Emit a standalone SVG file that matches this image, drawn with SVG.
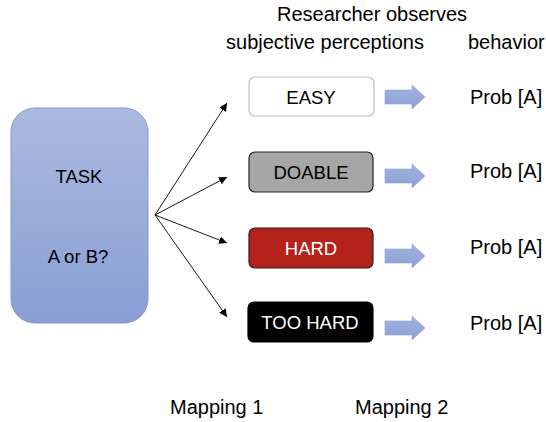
<svg xmlns="http://www.w3.org/2000/svg" width="546" height="422" viewBox="0 0 546 422">
<defs>
<linearGradient id="taskGrad" x1="0" y1="0" x2="0" y2="1">
<stop offset="0" stop-color="#abbae0"/>
<stop offset="1" stop-color="#8a9ed4"/>
</linearGradient>
<linearGradient id="blockGrad" x1="0" y1="0" x2="0" y2="1">
<stop offset="0" stop-color="#a3b4df"/>
<stop offset="1" stop-color="#8c9fd5"/>
</linearGradient>
<marker id="ah" viewBox="0 0 10 10" refX="10" refY="5" markerWidth="8" markerHeight="8" markerUnits="userSpaceOnUse" orient="auto">
<path d="M0,0 L10,5 L0,10 z" fill="#000"/>
</marker>
<path id="blk" d="M0,-7 L27,-7 L27,-12 L40,0 L27,12 L27,7 L0,7 z"/>
</defs>
<style>
text{font-family:"Liberation Sans",Arial,sans-serif;fill:#000}
.lbl{font-size:20px}
.box{font-size:18.5px;text-anchor:middle}
.conn line{stroke:#000;stroke-width:0.9;marker-end:url(#ah)}
.blkarrow use{fill:url(#blockGrad);stroke:#8ea2d6;stroke-width:0.6}
</style>
<rect width="546" height="422" fill="#fff"/>

<g id="header">
<text class="lbl" x="372" y="21" text-anchor="middle">Researcher observes</text>
<text class="lbl" x="325" y="49" text-anchor="middle">subjective perceptions</text>
<text class="lbl" x="468" y="49">behavior</text>
</g>

<g id="task">
<rect x="11" y="108" width="137" height="215" rx="24" ry="24" fill="url(#taskGrad)" stroke="#8598cc" stroke-width="1"/>
<text class="box" x="79" y="183">TASK</text>
<text class="box" x="78" y="263">A or B?</text>
</g>

<g id="connectors" class="conn">
<line x1="155" y1="215" x2="227" y2="103"/>
<line x1="155" y1="215" x2="227" y2="177"/>
<line x1="155" y1="215" x2="227" y2="243"/>
<line x1="155" y1="215" x2="227" y2="317"/>
</g>

<g id="easy">
<rect x="249" y="77" width="125" height="39" rx="6" fill="#fff" stroke="#bfbfbf" stroke-width="1.2"/>
<text class="box" x="311" y="104">EASY</text>
</g>
<g id="doable">
<rect x="249" y="152" width="124" height="40" rx="6" fill="#a6a6a6" stroke="#222" stroke-width="1.2"/>
<text class="box" x="311" y="179">DOABLE</text>
</g>
<g id="hard">
<rect x="249" y="228" width="124" height="40" rx="6" fill="#b3231b" stroke="#222" stroke-width="1.2"/>
<text class="box" x="311" y="255" style="fill:#fff">HARD</text>
</g>
<g id="toohard">
<rect x="248" y="302" width="125" height="40" rx="6" fill="#000" stroke="#000" stroke-width="1.2"/>
<text class="box" x="310" y="329" style="fill:#fff">TOO HARD</text>
</g>

<g id="block-arrows" class="blkarrow">
<use href="#blk" x="385" y="97"/>
<use href="#blk" x="385" y="176"/>
<use href="#blk" x="385" y="256"/>
<use href="#blk" x="385" y="328"/>
</g>

<g id="outputs">
<text class="lbl" x="470" y="104">Prob [A]</text>
<text class="lbl" x="470" y="178">Prob [A]</text>
<text class="lbl" x="470" y="254">Prob [A]</text>
<text class="lbl" x="470" y="330">Prob [A]</text>
</g>

<g id="footer">
<text class="lbl" x="170" y="414">Mapping 1</text>
<text class="lbl" x="355" y="414">Mapping 2</text>
</g>
</svg>
